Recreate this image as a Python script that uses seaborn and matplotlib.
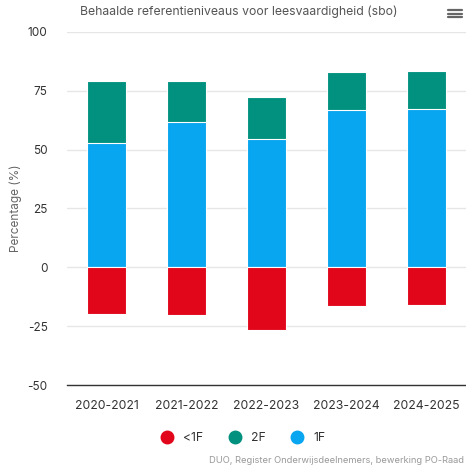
import pandas as pd
import seaborn as sns
import matplotlib.pyplot as plt
from matplotlib.lines import Line2D

years = ["2020-2021", "2021-2022", "2022-2023", "2023-2024", "2024-2025"]
f1 = [53.0, 61.9, 54.5, 67.0, 67.3]
f2 = [26.3, 17.4, 17.9, 16.1, 16.3]
below_1f = [-20.0, -20.4, -26.8, -16.5, -16.0]

df = pd.DataFrame({"Jaar": years, "1F": f1, "2F": f2, "<1F": below_1f})
df["Totaal"] = df["1F"] + df["2F"]

red = "#E2061B"
teal = "#02917F"
blue = "#08A6F0"

sns.set_style("white")
plt.rcParams["font.family"] = ["Inter", "DejaVu Sans"]
plt.rcParams["axes.unicode_minus"] = False

fig = plt.figure(figsize=(4.66, 4.68), dpi=100)
ax = fig.add_axes([67 / 466, 83 / 468, 399 / 466, 353 / 468])

# stacked: total (teal) first, then 1F (blue) over it, negative <1F separately
bar_kw = dict(width=0.49, edgecolor="white", linewidth=0.8, saturation=1,
              ax=ax, zorder=3)
sns.barplot(data=df, x="Jaar", y="Totaal", color=teal, **bar_kw)
sns.barplot(data=df, x="Jaar", y="1F", color=blue, **bar_kw)
sns.barplot(data=df, x="Jaar", y="<1F", color=red, **bar_kw)

ax.set_ylim(-50, 100)
ax.set_xlim(-0.5, 4.5)
ax.set_yticks([-50, -25, 0, 25, 50, 75, 100])
ax.yaxis.grid(True, color="#e6e6e6", linewidth=1)
ax.set_axisbelow(True)
for s in ["top", "right", "left"]:
    ax.spines[s].set_visible(False)
ax.spines["bottom"].set_color("#333333")
ax.spines["bottom"].set_linewidth(1)

ax.tick_params(axis="y", length=0, labelsize=8.5, labelcolor="#333333", pad=14)
ax.tick_params(axis="x", length=0, labelsize=8.8, labelcolor="#333333", pad=11)
ax.set_xlabel("")
ax.set_ylabel("Percentage (%)", fontsize=8.5, color="#666666", labelpad=4)

fig.text(0.512, 0.974, "Behaalde referentieniveaus voor leesvaardigheid (sbo)",
         ha="center", va="center", fontsize=8.8, color="#555555")
# menu icon
for dy in (0.0, 0.008, 0.016):
    fig.add_artist(Line2D([0.962, 0.992], [0.963 + dy, 0.963 + dy],
                          color="#666666", linewidth=1.6))

handles = [Line2D([0], [0], marker="o", linestyle="", markersize=9,
                  markerfacecolor=c, markeredgecolor=c)
           for c in (red, teal, blue)]
fig.legend(handles, ["<1F", "2F", "1F"], loc="center", ncol=3,
           bbox_to_anchor=(0.515, 0.064), frameon=False, fontsize=8.8,
           handletextpad=0.3, columnspacing=1.6, labelcolor="#333333")

fig.text(464 / 466, 0.017, "DUO, Register Onderwijsdeelnemers, bewerking PO-Raad",
         ha="right", va="center", fontsize=6.7, color="#999999")

fig.savefig("out.png", dpi=100)
